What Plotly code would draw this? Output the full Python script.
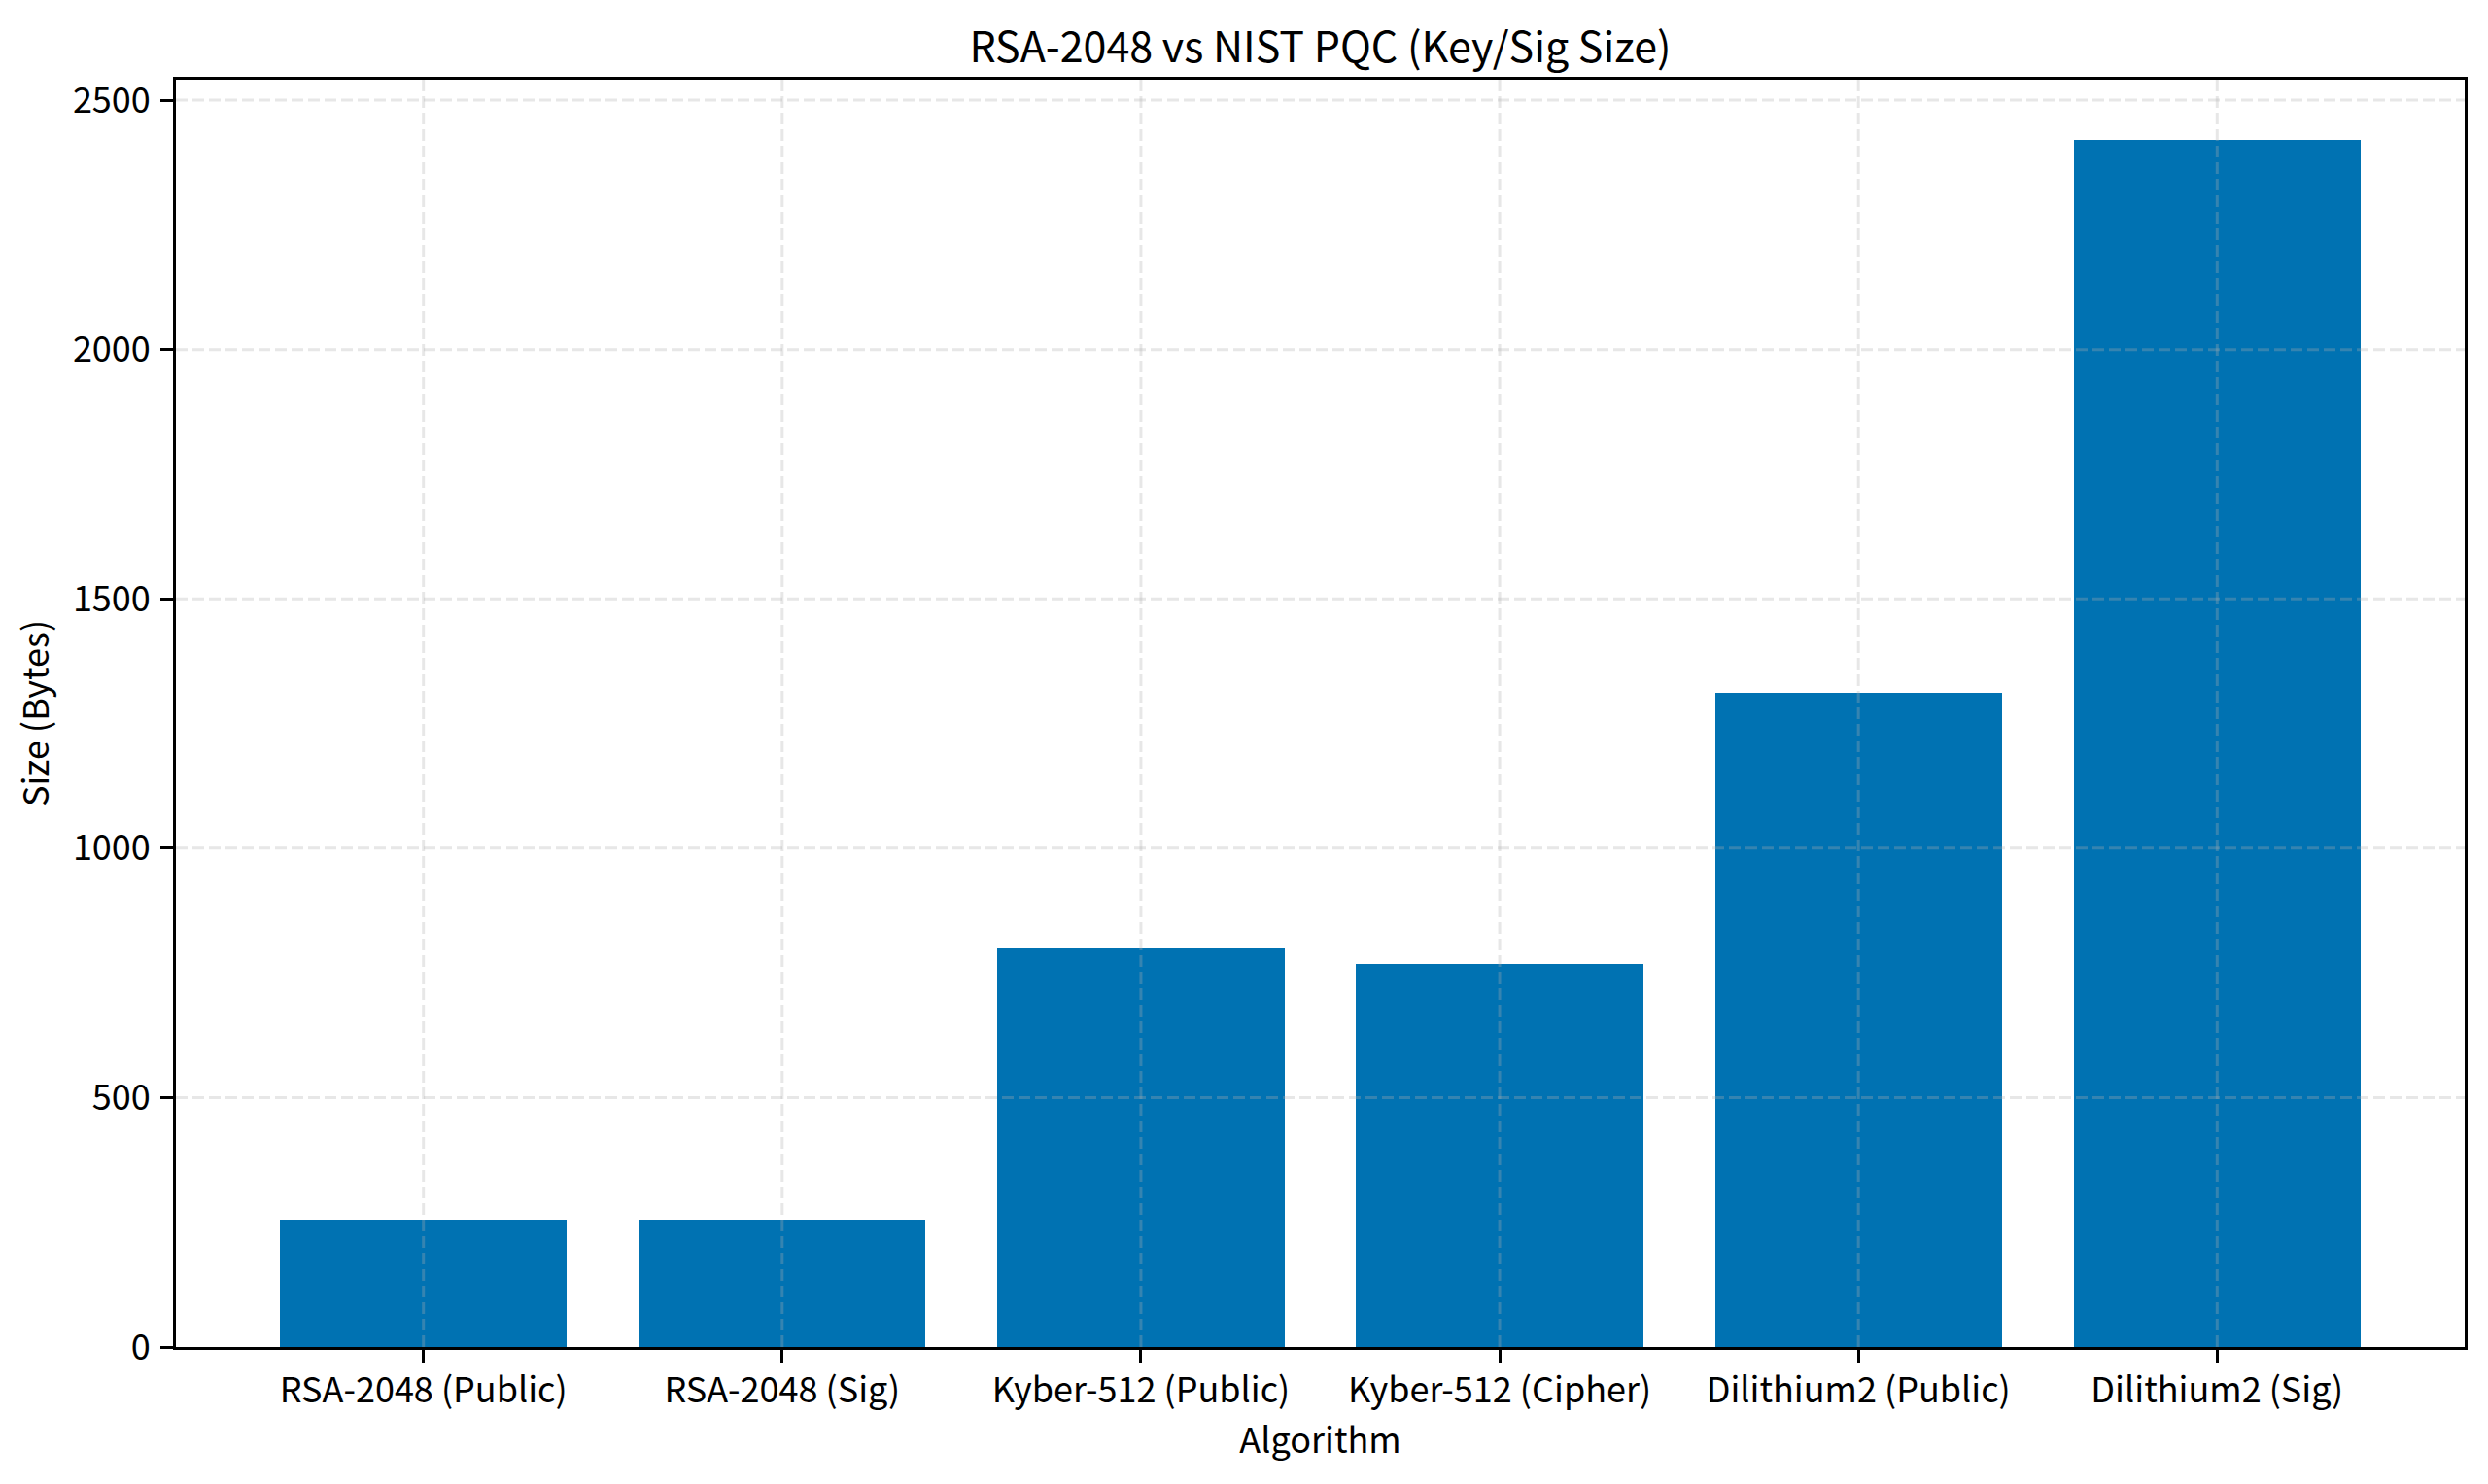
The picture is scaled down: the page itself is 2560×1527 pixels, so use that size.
import plotly.graph_objects as go

# key / signature sizes in bytes
algorithms = ["RSA-2048 (Public)", "RSA-2048 (Sig)", "Kyber-512 (Public)",
              "Kyber-512 (Cipher)", "Dilithium2 (Public)", "Dilithium2 (Sig)"]
sizes = [256, 256, 800, 768, 1312, 2420]
y_ticks = [0, 500, 1000, 1500, 2000, 2500]

FONT = "Noto Sans CJK SC"
grid = dict(color="rgba(176,176,176,0.3)", width=3, dash="12px,5px")

fig = go.Figure(go.Bar(x=algorithms, y=sizes, width=0.8,
                       marker=dict(color="#0072B2", line=dict(width=0))))

# grid drawn above the bars, like matplotlib's default zorder here
shapes = []
for a in algorithms:
    shapes.append(dict(type="line", xref="x", yref="paper", x0=a, x1=a,
                       y0=0, y1=1, line=grid, layer="above"))
for t in y_ticks[1:]:
    shapes.append(dict(type="line", xref="paper", yref="y", x0=0, x1=1,
                       y0=t, y1=t, line=grid, layer="above"))

axis_common = dict(showline=True, linecolor="black", linewidth=3, mirror=True,
                   ticks="outside", ticklen=13, tickwidth=3, tickcolor="black",
                   showgrid=False, zeroline=False,
                   tickfont=dict(family=FONT, size=36, color="black"))

# page body has an 8px margin, so the figure is a bit smaller than the window
W, H = 2544, 1511
fig.update_layout(
    width=W, height=H,
    margin=dict(l=173, r=16, t=74, b=133),
    paper_bgcolor="white", plot_bgcolor="white",
    font=dict(family=FONT, color="black"),
    title=dict(text="RSA-2048 vs NIST PQC (Key/Sig Size)", x=0.5, xref="paper",
               y=1 - 41 / H, yanchor="middle",
               font=dict(family=FONT, size=43, color="black")),
    xaxis=dict(range=[-0.69, 5.69], ticklabelstandoff=-2,
               title=dict(text="Algorithm", standoff=4,
                          font=dict(family=FONT, size=36, color="black")),
               **axis_common),
    yaxis=dict(range=[0, 2541], tickvals=y_ticks, ticklabelstandoff=3,
               title=dict(text="Size (Bytes)", standoff=16,
                          font=dict(family=FONT, size=36, color="black")),
               **axis_common),
    shapes=shapes,
    showlegend=False,
    bargap=0,
)

fig.write_html("out.html")
